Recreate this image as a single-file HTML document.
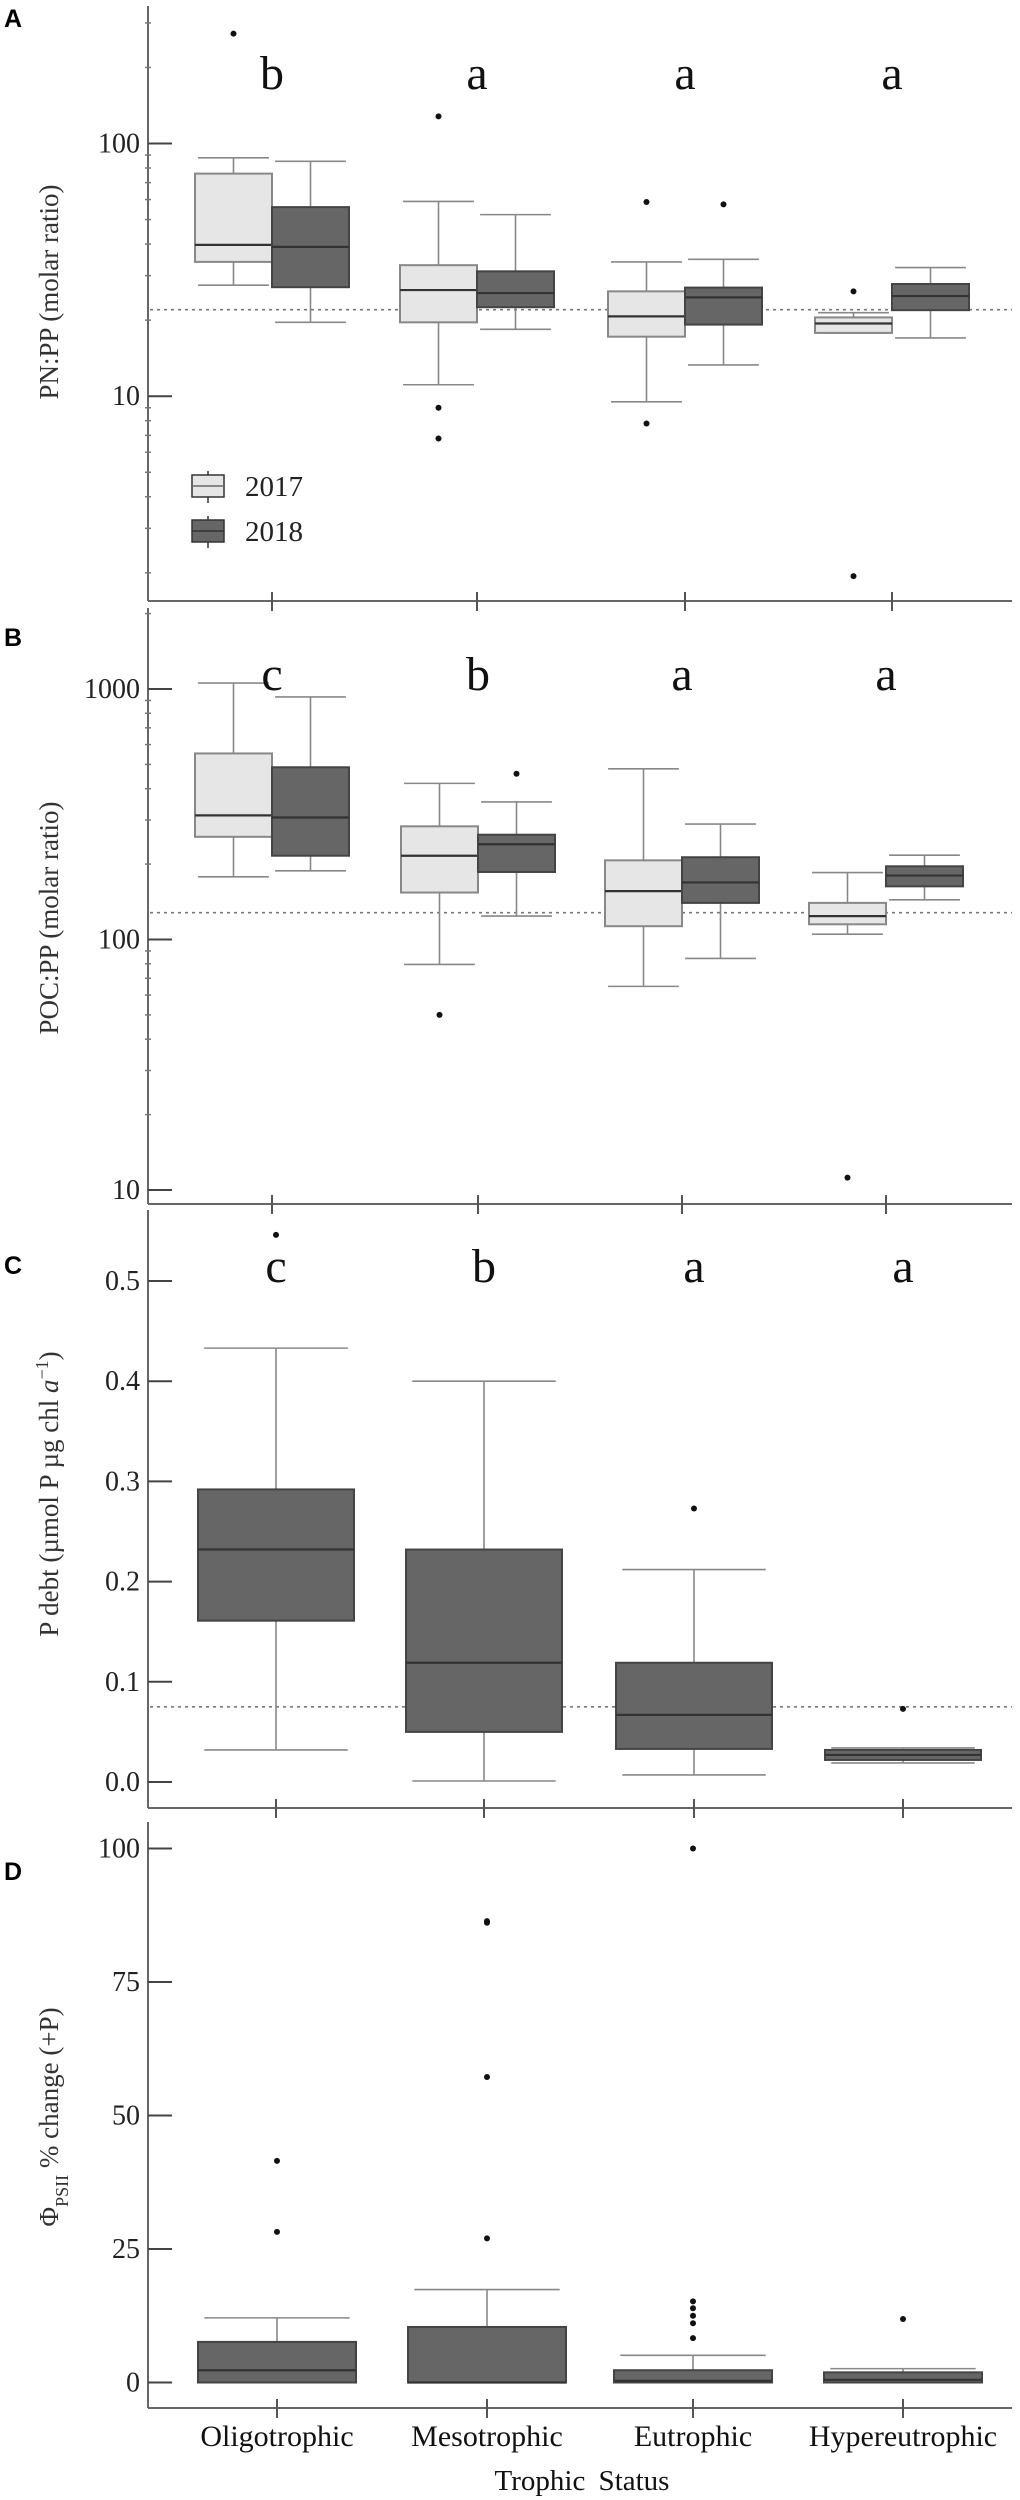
<!DOCTYPE html>
<html><head><meta charset="utf-8"><style>
html,body{margin:0;padding:0;background:#fff;}
svg{display:block;font-family:"Liberation Serif",serif;}
</style></head><body>
<svg id="fig" width="1020" height="2500" viewBox="0 0 1020 2500" xmlns="http://www.w3.org/2000/svg"></svg>
<script>
const categories = ["Oligotrophic","Mesotrophic","Eutrophic","Hypereutrophic"];
// Panel A: PN:PP [lowWhisker, q1, median, q3, highWhisker]
const pnpp2017 = [[27.5,34,39.7,76,87.8],[11.1,19.6,26.3,33,59],[9.5,17.2,20.7,26,34],[17.8,17.8,19.4,20.5,21.4]];
const pnpp2017Out = [[272],[128,9,6.8],[58.7,7.8],[26,1.94]];
const pnpp2018 = [[19.6,27,39,56,85],[18.4,22.5,25.6,31.2,52.3],[13.3,19.2,24.6,26.9,34.8],[17,21.9,24.9,27.8,32.3]];
const pnpp2018Out = [[],[],[57.4],[]];
const pnppLetters = ["b","a","a","a"];
const pnppRef = 22;
// Panel B: POC:PP
const pocpp2017 = [[178,257,313,553,1056],[79.5,154,216,283,420],[65,113,156,207,480],[105,115,124,140,185]];
const pocpp2017Out = [[],[50],[],[11.2]];
const pocpp2018 = [[188,216,307,487,930],[124,186,240,262,354],[84,140,169,213,289],[144,163,180,196,217]];
const pocpp2018Out = [[],[459],[],[]];
const pocppLetters = ["c","b","a","a"];
const pocppRef = 128;
// Panel C: P debt
const pdebt = [[0.032,0.161,0.232,0.292,0.433],[0.001,0.05,0.119,0.232,0.40],[0.007,0.033,0.067,0.119,0.212],[0.019,0.022,0.027,0.032,0.034]];
const pdebtOut = [[0.546],[],[0.273],[0.073]];
const pdebtLetters = ["c","b","a","a"];
const pdebtRef = 0.075;
const pdebtTicks = ["0.0","0.1","0.2","0.3","0.4","0.5"];
// Panel D: PSII % change
const psii = [[0,0,2.3,7.6,12.1],[0,0,0,10.4,17.4],[0,0,0.3,2.3,5.1],[0,0,0.5,1.9,2.6]];
const psiiOut = [[41.5,28.2],[86.4,86.1,57.2,27],[100,15.2,13.9,12.5,11.1,8.3],[11.9]];
const psiiTicks = ["0","25","50","75","100"];

const NS="http://www.w3.org/2000/svg";
const svg=document.getElementById('fig');
function el(tag,attrs,parent,text){const e=document.createElementNS(NS,tag);for(const k in attrs)e.setAttribute(k,attrs[k]);if(text!==undefined)e.textContent=text;(parent||svg).appendChild(e);return e;}
const AX=148, XEND=1012;

function logScale(y100,decade,ref){return v=>y100-decade*(Math.log10(v)-Math.log10(ref));}
function linScale(y0,pxPer){return v=>y0-v*pxPer;}

function frame(g,yTop,yAxis){
  const a=el('line',{x1:AX,y1:yTop,x2:AX,y2:yAxis,stroke:'#666','stroke-width':2},g);
  
  const b=el('line',{x1:AX,y1:yAxis,x2:XEND,y2:yAxis,stroke:'#666','stroke-width':2},g);
  
}
function catTicks(g,centers,yAxis){
  centers.forEach(c=>{const t=el('line',{x1:c,y1:yAxis-9,x2:c,y2:yAxis+10,stroke:'#555','stroke-width':2},g);
    });
}
function yTick(g,y,label){
  const t=el('line',{x1:AX,y1:y,x2:AX+24,y2:y,stroke:'#444','stroke-width':2},g);
  
  const l=el('text',{x:AX-8,y:y+9,'text-anchor':'end','font-size':28,fill:'#222'},g,label);
  
}
function minor(g,y){const t=el('line',{x1:AX-3,y1:y,x2:AX+3,y2:y,stroke:'#777','stroke-width':1.5},g);
  }
function refLine(g,y){const r=el('line',{x1:AX+2,y1:y,x2:XEND,y2:y,stroke:'#777','stroke-width':1.6,'stroke-dasharray':'3,4'},g);
  }
function box(g,cx,w,d,out,sc,fill,stroke,name){
  const bg=el('g',{},g);
  
  const cw=w*0.92;
  el('line',{x1:cx,y1:sc(d[0]),x2:cx,y2:sc(d[4]),stroke:'#888','stroke-width':1.6},bg);
  el('line',{x1:cx-cw/2,y1:sc(d[4]),x2:cx+cw/2,y2:sc(d[4]),stroke:'#888','stroke-width':1.6},bg);
  el('line',{x1:cx-cw/2,y1:sc(d[0]),x2:cx+cw/2,y2:sc(d[0]),stroke:'#888','stroke-width':1.6},bg);
  const yt=sc(d[3]),yb=sc(d[1]);
  el('rect',{x:cx-w/2,y:yt,width:w,height:Math.max(yb-yt,3),fill:fill,stroke:stroke,'stroke-width':2},bg);
  el('line',{x1:cx-w/2,y1:sc(d[2]),x2:cx+w/2,y2:sc(d[2]),stroke:'#333','stroke-width':2.2},bg);
  out.forEach(v=>{const o=el('circle',{cx:cx,cy:sc(v),r:3,fill:'#111'},g);
    });
}
function letters(g,centers,arr,y){arr.forEach((s,i)=>{const t=el('text',{x:centers[i],y:y,'text-anchor':'middle','font-size':48,fill:'#111'},g,s);
  });}
function ytitle(g,x,y,content){const t=el('text',{x:0,y:0,transform:`translate(${x},${y}) rotate(-90)`,'text-anchor':'middle','font-size':27,fill:'#333'},g);
  return t;}
function panelLabel(g,s,y){const t=el('text',{x:4,y:y,'font-size':25,'font-weight':'bold','font-family':'Liberation Sans, sans-serif',fill:'#000'},g,s);
  }

// ---- Panel A ----
(function(){
  const g=el('g',{});
  const sc=logScale(143.5,252.7,100);
  const centers=[272,477,685,892];
  frame(g,6,601);
  for(let d=1;d<=100;d*=10)for(let k=2;k<=9;k++){const y=sc(d*k);if(y>8&&y<598)minor(g,y);}
  yTick(g,sc(100),"100");yTick(g,sc(10),"10");
  refLine(g,sc(pnppRef));
  centers.forEach((c,i)=>{box(g,c-38.5,77,pnpp2017[i],pnpp2017Out[i],sc,'#e6e6e6','#888','box-2017-'+categories[i].toLowerCase());
    box(g,c+38.5,77,pnpp2018[i],pnpp2018Out[i],sc,'#666','#444','box-2018-'+categories[i].toLowerCase());});
  catTicks(g,centers,601);
  letters(g,centers,pnppLetters,89);
  const t=ytitle(g,58,292);t.textContent="PN:PP (molar ratio)";
  panelLabel(g,"A",27);
  // legend
  const lg=el('g',{},g);
  [[475,'#e6e6e6','#666','2017'],[520,'#666','#333','2018']].forEach(([y,f,s,lab])=>{
    const e=el('g',{},lg);
    el('line',{x1:208,y1:y-4,x2:208,y2:y+28,stroke:'#333','stroke-width':1.5},e);
    el('rect',{x:192,y:y,width:32,height:22,fill:f,stroke:'#333','stroke-width':1.5},e);
    el('line',{x1:192,y1:y+11,x2:224,y2:y+11,stroke:s,'stroke-width':1.5},e);
    el('text',{x:245,y:y+21,'font-size':29,fill:'#222'},e,lab);
  });
})();

// ---- Panel B ----
(function(){
  const g=el('g',{});
  const sc=logScale(689,250.5,1000);
  const centers=[272,478,682,886];
  frame(g,608,1204);
  for(let d=10;d<=1000;d*=10)for(let k=2;k<=9;k++){const y=sc(d*k);if(y>610&&y<1200)minor(g,y);}
  yTick(g,sc(1000),"1000");yTick(g,sc(100),"100");yTick(g,sc(10),"10");
  refLine(g,sc(pocppRef));
  centers.forEach((c,i)=>{box(g,c-38.5,77,pocpp2017[i],pocpp2017Out[i],sc,'#e6e6e6','#888','box-2017-'+categories[i].toLowerCase());
    box(g,c+38.5,77,pocpp2018[i],pocpp2018Out[i],sc,'#666','#444','box-2018-'+categories[i].toLowerCase());});
  catTicks(g,centers,1204);
  letters(g,centers,pocppLetters,690);
  const t=ytitle(g,58,918);t.textContent="POC:PP (molar ratio)";
  panelLabel(g,"B",646);
})();

// ---- Panel C ----
(function(){
  const g=el('g',{});
  const sc=linScale(1782,1002);
  const centers=[276,484,694,903];
  frame(g,1210,1808);
  pdebtTicks.forEach(s=>yTick(g,sc(parseFloat(s)),s));
  refLine(g,sc(pdebtRef));
  centers.forEach((c,i)=>box(g,c,156,pdebt[i],pdebtOut[i],sc,'#666','#444','box-'+categories[i].toLowerCase()));
  catTicks(g,centers,1808);
  letters(g,centers,pdebtLetters,1282);
  const t=ytitle(g,58,1494);
  t.appendChild(document.createTextNode("P debt (µmol P µg chl "));
  el('tspan',{'font-style':'italic'},t,"a");
  el('tspan',{'baseline-shift':'super','font-size':18},t,"−1");
  t.appendChild(document.createTextNode(")"));
  panelLabel(g,"C",1274);
})();

// ---- Panel D ----
(function(){
  const g=el('g',{});
  const sc=linScale(2382.5,5.34);
  const centers=[277,487,693,903];
  frame(g,1822,2408);
  psiiTicks.forEach(s=>yTick(g,sc(parseFloat(s)),s));
  centers.forEach((c,i)=>box(g,c,158,psii[i],psiiOut[i],sc,'#666','#444','box-'+categories[i].toLowerCase()));
  catTicks(g,centers,2408);
  centers.forEach((c,i)=>{const t=el('text',{x:c,y:2446,'text-anchor':'middle','font-size':30,fill:'#111'},g,categories[i]);
    });
  const xt=el('text',{x:582,y:2490,'text-anchor':'middle','font-size':29,fill:'#111','word-spacing':6},g,"Trophic Status");
  
  const t=ytitle(g,58,2117);
  t.appendChild(document.createTextNode("Φ"));
  el('tspan',{'baseline-shift':'sub','font-size':18},t,"PSII");
  t.appendChild(document.createTextNode(" % change  (+P)"));
  panelLabel(g,"D",1880);
})();
</script>
</body></html>
